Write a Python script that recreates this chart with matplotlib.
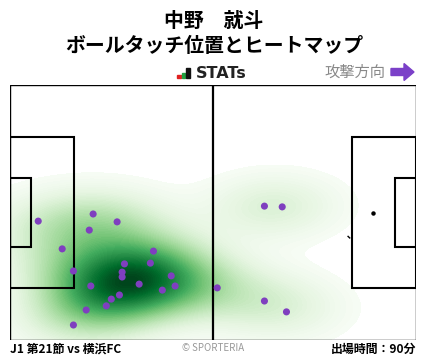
import numpy as np
import matplotlib
matplotlib.use("Agg")
import matplotlib.pyplot as plt
from matplotlib.patches import Rectangle, Arc, FancyArrow

plt.rcParams['font.family'] = ['Noto Sans CJK JP', 'DejaVu Sans']

# ---- data (pitch metres, x: 0-105 toward attack, y: 0-68 from top) ----
touch_x = [7.3, 21.5, 20.5, 27.7, 13.5, 37.1, 36.3, 29.6, 29.0, 29.0, 16.4,
           33.4, 41.7, 42.7, 39.4, 20.9, 28.3, 26.2, 24.9, 19.7, 16.4, 53.6,
           65.8, 70.4, 65.8, 71.5]
touch_y = [36.3, 34.4, 38.7, 36.5, 43.7, 44.3, 47.5, 47.7, 49.9, 51.2, 49.6,
           53.1, 50.9, 53.6, 54.7, 53.6, 56.0, 57.1, 58.9, 60.0, 64.0, 54.1,
           32.3, 32.5, 57.6, 60.5]

title1 = "中野　就斗"
title2 = "ボールタッチ位置とヒートマップ"
match_label = "J1 第21節 vs 横浜FC"
minutes_label = "出場時間：90分"

PURPLE = "#7f3fbf"

W, H = 428, 359
fig = plt.figure(figsize=(W / 100, H / 100), dpi=100)
fig.patch.set_facecolor("white")

ax = fig.add_axes([10 / W, 19 / H, 406 / W, 255 / H])
ax.set_xlim(0, 105)
ax.set_ylim(68, 0)
ax.axis("off")

# ---- KDE heatmap ----
pts = np.vstack([touch_x, touch_y])
n = pts.shape[1]
cov = np.cov(pts)
factor = n ** (-1 / 6) * 1.12
kcov = cov * factor ** 2
inv = np.linalg.inv(kcov)
gx = np.linspace(0, 105, 320)
gy = np.linspace(0, 68, 210)
GX, GY = np.meshgrid(gx, gy)
D = np.zeros_like(GX)
for x0, y0 in zip(touch_x, touch_y):
    dx = GX - x0
    dy = GY - y0
    q = inv[0, 0] * dx * dx + 2 * inv[0, 1] * dx * dy + inv[1, 1] * dy * dy
    D += np.exp(-0.5 * q)
D /= D.max()
levels = np.linspace(0.035, 1.0, 80)
ax.contourf(GX, GY, D, levels=levels, cmap="Greens", extend="max", zorder=1)

# ---- pitch lines ----
lc = "black"
ax.add_patch(Rectangle((0, 0), 105, 68, fill=False, ec=lc, lw=1.0, zorder=3))
ax.plot([52.5, 52.5], [0, 68], color=lc, lw=1.6, zorder=3)
for x0, w in [(0, 16.5), (105 - 16.5, 16.5)]:
    ax.add_patch(Rectangle((x0, 34 - 20.16), w, 40.32, fill=False, ec=lc, lw=1.5, zorder=3))
for x0, w in [(0, 5.5), (105 - 5.5, 5.5)]:
    ax.add_patch(Rectangle((x0, 34 - 9.16), w, 18.32, fill=False, ec=lc, lw=1.5, zorder=3))
ax.plot([94], [34], marker="o", ms=2.2, color=lc, zorder=3)
ax.add_patch(Arc((94, 34), 18.3, 18.3, theta1=131, theta2=137, ec=lc, lw=1.0, zorder=3))

# ---- touches ----
ax.scatter(touch_x, touch_y, s=26, color=PURPLE, edgecolors="none", zorder=4)

# ---- texts ----
def fy(py):
    return 1 - py / H

fig.text(0.5, fy(20), title1, ha="center", va="center", fontsize=14.3, fontweight="bold")
fig.text(0.5, fy(45), title2, ha="center", va="center", fontsize=14.3, fontweight="bold")

# STATs logo
bars = [(177, 3, "#e02020"), (181.5, 5, "#20a040"), (186, 10, "#111111")]
for bx, bh, bc in bars:
    fig.patches.append(Rectangle((bx / W, fy(78)), 3.5 / W, bh / H, color=bc,
                                 transform=fig.transFigure, figure=fig))
fig.text(196 / W, fy(73), "STATs", ha="left", va="center", fontsize=11.5,
         fontweight="bold", color="#222222", family="DejaVu Sans")

fig.text(385 / W, fy(72), "攻撃方向", ha="right", va="center", fontsize=11, color="#888888")
fig.patches.append(FancyArrow(391 / W, fy(72), 13 / W, 0, width=7 / H, head_width=17 / H,
                              head_length=10 / W, length_includes_head=False,
                              color="#7b40c8", transform=fig.transFigure, figure=fig))

fig.text(10 / W, fy(349), match_label, ha="left", va="center", fontsize=8.6, fontweight="bold")
fig.text(213 / W, fy(348), "© SPORTERIA", ha="center", va="center", fontsize=7, color="#999999")
fig.text(416 / W, fy(349), minutes_label, ha="right", va="center", fontsize=8.6, fontweight="bold")

fig.savefig("out.png", dpi=100, facecolor="white")
